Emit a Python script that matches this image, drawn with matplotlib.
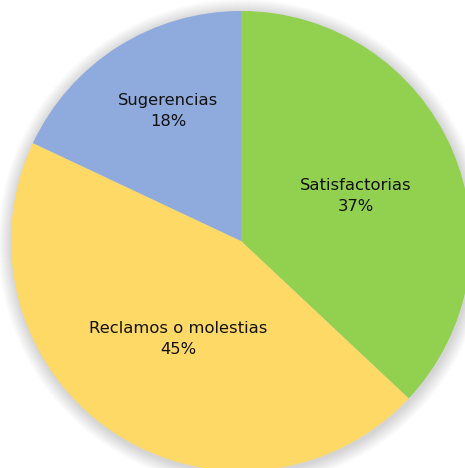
import matplotlib.pyplot as plt
from matplotlib.patches import Circle

labels = ['Satisfactorias', 'Reclamos o molestias', 'Sugerencias']
pcts = [37, 45, 18]
colors = ['#92D050', '#FFD966', '#8FAADC']

W, H = 465, 468
cx, cy, R = 241, H - 241, 230
# label centres as offsets from the pie centre, in units of the radius
label_off = [(0.50, 0.196), (-0.274, -0.426), (-0.317, 0.565)]

fig = plt.figure(figsize=(W / 100, H / 100), dpi=100)
ax = fig.add_axes([0, 0, 1, 1])

# soft shadow around the pie
for i in range(14):
    ax.add_patch(Circle((cx + 1, cy - 2), R + 14 - i, color='black',
                        alpha=0.012, lw=0, zorder=0))

wedges, _ = ax.pie(pcts, colors=colors, startangle=90, counterclock=False,
                   center=(cx, cy), radius=R, frame=True,
                   wedgeprops=dict(linewidth=0))
ax.set_xlim(0, W)
ax.set_ylim(0, H)
ax.set_aspect('equal')
ax.axis('off')

for lab, p, (ox, oy) in zip(labels, pcts, label_off):
    ax.text(cx + ox * R, cy + oy * R, f'{lab}\n{p}%', ha='center', va='center',
            fontsize=11.8, color='#111111', family='DejaVu Sans',
            linespacing=1.55)

fig.savefig('out.png', dpi=100)
